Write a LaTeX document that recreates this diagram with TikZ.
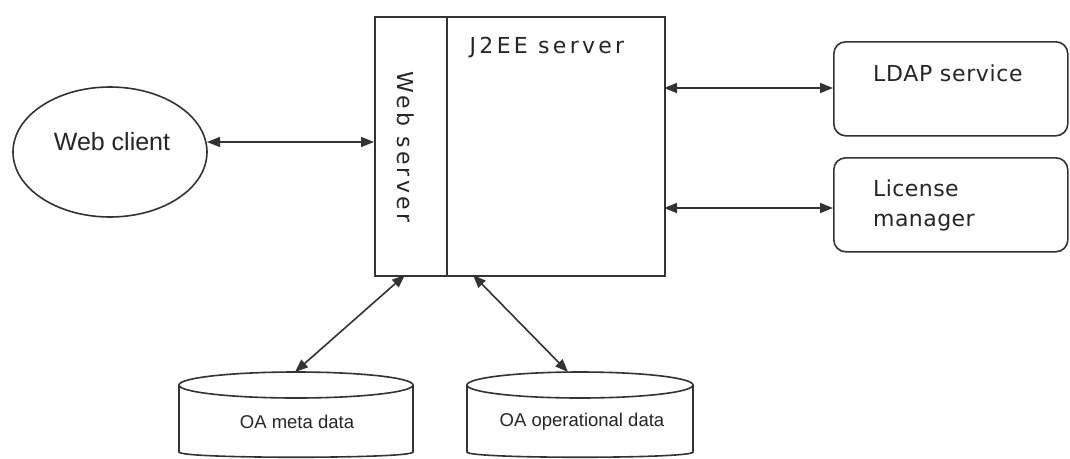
\documentclass[tikz,border=0pt]{standalone}
\usepackage{fontspec}
\setmainfont{Liberation Sans}
\newfontfamily\wide{DejaVu Sans}
\usetikzlibrary{arrows.meta,shapes.geometric}
\definecolor{ink}{HTML}{333333}
\definecolor{txt}{HTML}{262626}
\tikzset{
  line/.style={draw=ink, line width=1.6pt},
  link/.style={line, {Triangle[length=13pt,width=10pt]}-{Triangle[length=13pt,width=10pt]}},
  roundbox/.style={line, rounded corners=12pt, minimum width=234pt, minimum height=94pt, inner sep=0pt},
  label/.style={text=txt, inner sep=0pt, anchor=center},
}
\newcommand{\spaced}[1]{\addfontfeatures{LetterSpace=#1}}
\begin{document}
\begin{tikzpicture}[x=1pt, y=-1pt]
  \useasboundingbox[fill=white] (0,0) rectangle (1070,458);

  % web client
  \node[line, ellipse, minimum width=194pt, minimum height=130pt, inner sep=0pt] (client) at (110,152) {};
  \node[label, font=\fontsize{25}{30}\selectfont] (clienttxt) at (112,142) {Web client};

  % application server with the web tier on its left
  \node[line, minimum width=290pt, minimum height=259pt, inner sep=0pt, anchor=north west] (srv) at (374,16) {};
  \draw[line] (447,16) -- (447,275);
  \coordinate (wsin) at (374,142);
  \node[label, rotate=-90, font=\wide\fontsize{22}{27}\selectfont\spaced{15}] (wstxt) at (406,147) {Web server};
  \node[label, font=\wide\fontsize{22}{27}\selectfont\spaced{15}] (jtxt) at (547,48) {J2EE server};

  % directory and licensing services
  \node[roundbox, anchor=north west] (ldap) at (833,41) {};
  \node[label, anchor=west, font=\wide\fontsize{22}{26}\selectfont\spaced{3}] (ldaptxt) at (873,73) {LDAP service};
  \node[roundbox, anchor=north west] (lic) at (833,157) {};
  \node[label, anchor=west, align=left, font=\wide\fontsize{22}{30}\selectfont\spaced{2}] (lictxt) at (873,205) {License\\manager};

  % data stores
  \draw[line] (296,385) ellipse [x radius=117, y radius=13];
  \draw[line] (179,385) -- (179,452) .. controls (179,459) and (413,459) .. (413,452) -- (413,385);
  \node[label, font=\fontsize{18.5}{22}\selectfont] (meta) at (297,422) {OA meta data};
  \draw[line] (580,385) ellipse [x radius=113, y radius=13];
  \draw[line] (467,385) -- (467,452) .. controls (467,459) and (693,459) .. (693,452) -- (693,385);
  \node[label, font=\fontsize{18.5}{22}\selectfont] (oper) at (582,422) {OA operational data};

  % attachment points
  \coordinate (clientE) at (207,142);
  \coordinate (srvE1) at (664,88);
  \coordinate (srvE2) at (664,208);
  \coordinate (ldapW) at (833,88);
  \coordinate (licW) at (833,208);
  \coordinate (srvS1) at (405,275);
  \coordinate (srvS2) at (473,275);
  \coordinate (metaN) at (295,372);
  \coordinate (operN) at (568,372);

  % connectors
  \draw[link] (clientE) -- (wsin);
  \draw[link] (srvE1) -- (ldapW);
  \draw[link] (srvE2) -- (licW);
  \draw[link] (srvS1) -- (metaN);
  \draw[link] (srvS2) -- (operN);
\end{tikzpicture}
\end{document}
